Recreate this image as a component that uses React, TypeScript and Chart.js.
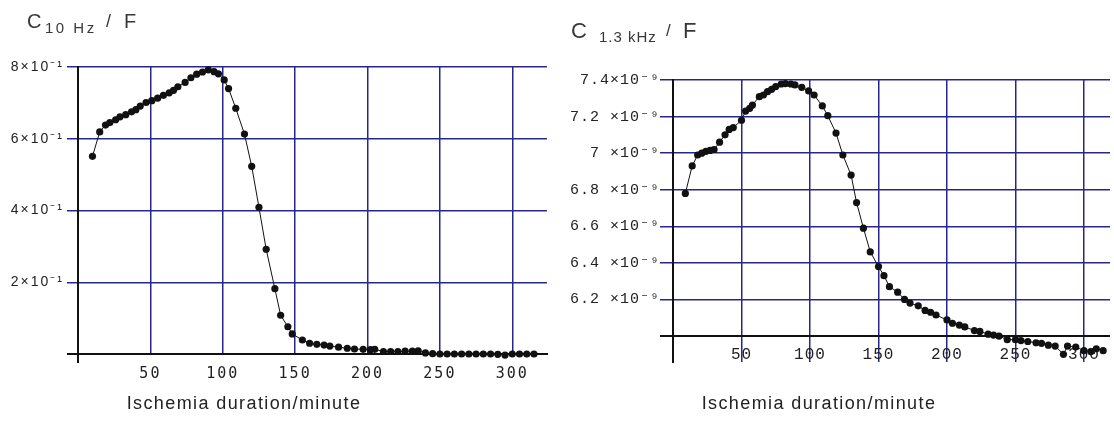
import React, { useEffect, useRef } from 'react';
import { Chart, registerables } from 'chart.js';

Chart.register(...registerables);

// ---------- data ----------
// Left panel: capacitance at 10 Hz (F) vs ischemia duration (minutes)
const leftMinutes = [10, 15, 19, 22, 26, 29, 33, 37, 40, 43, 47, 51, 55, 59, 63, 66, 69, 74, 78, 82, 86, 90, 94, 97, 101, 104, 109, 115, 120, 125, 130, 136, 140, 145, 148, 155, 160, 165, 170, 174, 180, 186, 191, 197, 202, 205, 211, 216, 221, 226, 231, 235, 240, 245, 250, 255, 260, 265, 270, 275, 280, 285, 290, 295, 300, 305, 310, 315];
const leftCapacitance = [0.551, 0.619, 0.638, 0.645, 0.653, 0.661, 0.667, 0.675, 0.681, 0.691, 0.701, 0.706, 0.713, 0.721, 0.728, 0.735, 0.745, 0.757, 0.770, 0.780, 0.786, 0.792, 0.787, 0.781, 0.764, 0.740, 0.685, 0.613, 0.523, 0.409, 0.292, 0.182, 0.108, 0.076, 0.056, 0.039, 0.030, 0.027, 0.025, 0.022, 0.019, 0.016, 0.014, 0.013, 0.012, 0.013, 0.007, 0.007, 0.007, 0.008, 0.008, 0.009, 0.003, 0.001, 0, 0, 0, 0, 0, 0, 0, 0, -0.001, -0.003, 0, 0, 0, 0];

// Right panel: capacitance at 1.3 kHz (in units of 10^-9 F)
const rightMinutes = [9, 14, 18, 21, 24, 27, 30, 34, 38, 41, 44, 50, 53, 56, 58, 63, 66, 69, 72, 75, 79, 82, 86, 89, 94, 99, 103, 109, 113, 119, 124, 130, 134, 139, 144, 150, 154, 158, 164, 169, 173, 179, 184, 188, 192, 200, 204, 209, 213, 220, 224, 230, 234, 238, 244, 250, 254, 259, 265, 269, 274, 279, 285, 288, 294, 300, 305, 309, 314];
const rightCapacitance = [6.78, 6.93, 6.99, 7.0, 7.01, 7.015, 7.02, 7.06, 7.1, 7.13, 7.14, 7.18, 7.23, 7.245, 7.263, 7.309, 7.318, 7.336, 7.349, 7.364, 7.378, 7.38, 7.378, 7.373, 7.36, 7.34, 7.318, 7.258, 7.205, 7.11, 6.99, 6.88, 6.73, 6.59, 6.46, 6.38, 6.33, 6.27, 6.24, 6.2, 6.18, 6.165, 6.14, 6.13, 6.115, 6.088, 6.07, 6.06, 6.05, 6.03, 6.025, 6.01, 6.005, 6.0, 5.98, 5.98, 5.975, 5.97, 5.963, 5.96, 5.95, 5.945, 5.9, 5.945, 5.94, 5.92, 5.915, 5.93, 5.92];

// tick labels
const xTickLabels = ['', '50', '100', '150', '200', '250', '300'];
const leftYTickLabels = ['', '2×10⁻¹', '4×10⁻¹', '6×10⁻¹', '8×10⁻¹'];
const rightYTickLabels = ['', '6.2 ×10⁻⁹', '6.4 ×10⁻⁹', '6.6 ×10⁻⁹', '6.8 ×10⁻⁹', '7 ×10⁻⁹', '7.2 ×10⁻⁹', '7.4×10⁻⁹'];

const leftTitle = { main: 'C', sub: '10 Hz', unit: 'F' };
const rightTitle = { main: 'C', sub: '1.3 kHz', unit: 'F' };
const xAxisTitle = 'Ischemia duration/minute';

// ---------- styling ----------
const NAVY = '#26268c';
const BLACK = '#111111';
const TEXT = '#222222';

const spacingPlugin = {
  id: 'letterSpacing',
  beforeDraw(chart: any, _args: any, opts: any) {
    chart.ctx.letterSpacing = (opts && opts.value) || '0px';
  },
};

function buildOptions(p: any) {
  return {
    responsive: false,
    animation: false,
    devicePixelRatio: 1,
    layout: { padding: { left: 0, top: p.padTop, right: p.padRight, bottom: 0 } },
    plugins: {
      legend: { display: false },
      tooltip: { enabled: false },
      title: { display: false },
      letterSpacing: { value: p.spacing },
    },
    scales: {
      x: {
        type: 'linear',
        min: 0,
        max: p.xMax,
        afterFit: (s: any) => { s.height = p.xHeight; },
        border: { display: p.xBorder, color: BLACK, width: 2 },
        grid: {
          color: (c: any) => (c.index === 0 ? BLACK : NAVY),
          lineWidth: (c: any) => (c.index === 0 ? 2 : 1.5),
          tickColor: (c: any) => (c.index === 0 ? BLACK : 'transparent'),
          tickWidth: (c: any) => (c.index === 0 ? 2 : 1.5),
          tickLength: p.xTickLen,
          drawTicks: p.xTickLen > 0,
        },
        ticks: {
          stepSize: 50,
          includeBounds: false,
          autoSkip: false,
          maxRotation: 0,
          mirror: p.xMirror,
          padding: p.xPad,
          color: TEXT,
          font: p.xFont,
          callback: (_v: any, i: number) => xTickLabels[i],
        },
      },
      y: {
        type: 'linear',
        min: p.yMin,
        max: p.yMax,
        afterFit: (s: any) => { s.width = p.yWidth; },
        border: { display: true, color: BLACK, width: 2 },
        grid: {
          color: (c: any) => (c.index === 0 ? BLACK : NAVY),
          lineWidth: (c: any) => (c.index === 0 ? 2 : 1.5),
          tickColor: (c: any) => (c.index === 0 ? BLACK : NAVY),
          tickWidth: (c: any) => (c.index === 0 ? 2 : 1.5),
          tickLength: p.yTickLen,
          drawTicks: true,
        },
        ticks: {
          stepSize: p.yStep,
          includeBounds: false,
          autoSkip: false,
          padding: p.yPad,
          color: TEXT,
          font: p.yFont,
          callback: (_v: any, i: number) => p.yLabels[i],
        },
      },
    },
  };
}

function dataset(xs: number[], ys: number[]) {
  return {
    data: xs.map((x, i) => ({ x, y: ys[i] })),
    borderColor: BLACK,
    borderWidth: 1,
    pointRadius: 3.6,
    pointBackgroundColor: BLACK,
    pointBorderWidth: 0,
    tension: 0,
    clip: false,
  };
}

export default function App() {
  const leftRef = useRef<HTMLCanvasElement>(null);
  const rightRef = useRef<HTMLCanvasElement>(null);

  useEffect(() => {
    const left = new Chart(leftRef.current as HTMLCanvasElement, {
      type: 'line',
      data: { datasets: [dataset(leftMinutes, leftCapacitance)] },
      options: buildOptions({
        padTop: 67, padRight: 10, yWidth: 78, xHeight: 78, xMax: 324,
        yMin: 0, yMax: 0.8, yStep: 0.2, yLabels: leftYTickLabels,
        yFont: { family: "'Liberation Sans', Arial, sans-serif", size: 14 },
        xFont: { family: "'DejaVu Sans Mono', monospace", size: 15 },
        yTickLen: 11, yPad: 3, xTickLen: 9, xPad: 2, xBorder: true, xMirror: false,
        spacing: '2px',
      }) as any,
      plugins: [spacingPlugin as any],
    });
    // Bottom of the right plot area sits a little below the 6.0 axis so the
    // vertical grid lines run through the tick labels, as in the reference.
    const right = new Chart(rightRef.current as HTMLCanvasElement, {
      type: 'line',
      data: { datasets: [dataset(rightMinutes, rightCapacitance)] },
      options: buildOptions({
        padTop: 80, padRight: 1, yWidth: 116, xHeight: 70, xMax: 319,
        yMin: 5.858, yMax: 7.4, yStep: 0.2, yLabels: rightYTickLabels,
        yFont: { family: "'Liberation Mono', monospace", size: 15 },
        xFont: { family: "'Liberation Mono', monospace", size: 16 },
        yTickLen: 13, yPad: 0, xTickLen: 0, xPad: -2, xBorder: false, xMirror: true,
        spacing: '1px',
      }) as any,
      plugins: [spacingPlugin as any],
    });
    return () => {
      left.destroy();
      right.destroy();
    };
  }, []);

  const titleFont = "'Liberation Sans', Arial, sans-serif";
  const span = (text: string, left: number, top: number, size: number, spacing = 0): React.ReactNode => (
    <span
      style={{
        position: 'absolute', left, top, fontSize: size, lineHeight: 1,
        letterSpacing: spacing, whiteSpace: 'pre', color: '#383838', fontFamily: titleFont,
      }}
    >
      {text}
    </span>
  );

  return (
    <div style={{ position: 'fixed', left: 0, top: 0, width: 1114, height: 432, background: '#fff', overflow: 'hidden' }}>
      <canvas ref={leftRef} width={557} height={432} style={{ position: 'absolute', left: 0, top: 0, width: 557, height: 432 }} />
      <canvas ref={rightRef} width={557} height={432} style={{ position: 'absolute', left: 557, top: 0, width: 557, height: 432 }} />

      {span(leftTitle.main, 27, 11, 20)}
      {span(leftTitle.sub, 45, 20, 15, 2.5)}
      {span('/', 106, 12, 18)}
      {span(leftTitle.unit, 124, 11, 20)}

      {span(rightTitle.main, 571, 20, 22)}
      {span(rightTitle.sub, 599, 29, 15, 1)}
      {span('/', 666, 22, 17)}
      {span(rightTitle.unit, 683, 20, 22)}

      <div style={{ position: 'absolute', left: 94, top: 392, width: 300, textAlign: 'center', fontFamily: titleFont, fontSize: 18, lineHeight: '22px', letterSpacing: 1.4, color: TEXT }}>
        {xAxisTitle}
      </div>
      <div style={{ position: 'absolute', left: 669, top: 392, width: 300, textAlign: 'center', fontFamily: titleFont, fontSize: 18, lineHeight: '22px', letterSpacing: 1.4, color: TEXT }}>
        {xAxisTitle}
      </div>
    </div>
  );
}
